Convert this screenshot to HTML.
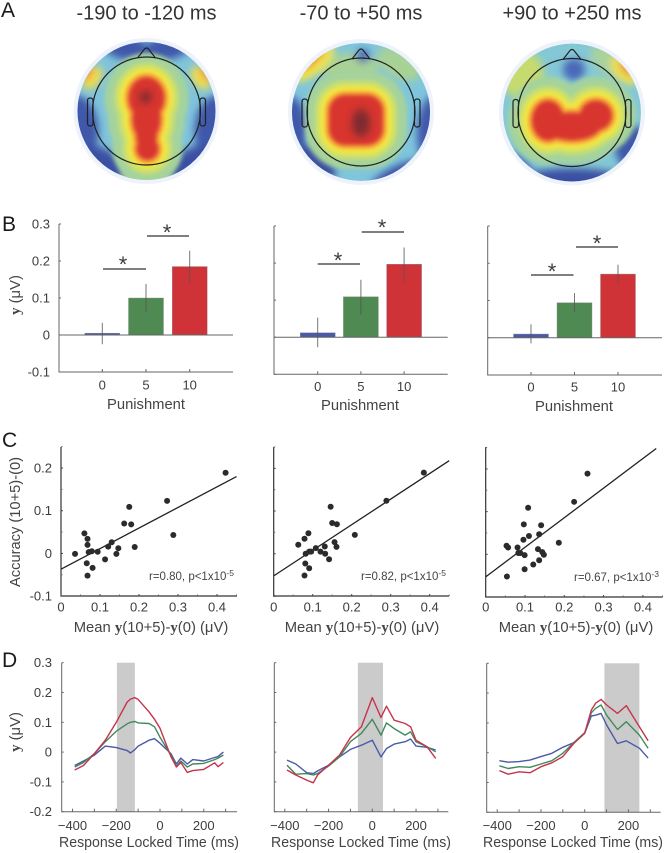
<!DOCTYPE html>
<html lang="en">
<head>
<meta charset="utf-8">
<title>Punishment ERP figure</title>
<style>
html,body{margin:0;padding:0;background:#fff;}
svg{display:block;}
text{font-family:"Liberation Sans",sans-serif;fill:#3d3d3d;}
.title{font-size:20px;fill:#333;}
.letter{font-size:21px;fill:#1a1a1a;}
.axt{font-size:14.8px;fill:#444;}
.bold{font-family:"Liberation Serif",serif;font-weight:bold;}
.sm{font-size:11.5px;fill:#444;}
.sup{font-size:8.5px;}
</style>
</head>
<body>
<svg id="fig" xmlns="http://www.w3.org/2000/svg" width="665" height="853" viewBox="0 0 665 853">
  <defs>
    <filter id="soft" x="-40%" y="-40%" width="180%" height="180%"><feGaussianBlur stdDeviation="4"/></filter>
    <filter id="softer" x="-40%" y="-40%" width="180%" height="180%"><feGaussianBlur stdDeviation="2.2"/></filter>
  </defs>
  <rect width="665" height="853" fill="#fff"/>
  <text class="letter" x="1" y="17">A</text>
  <text class="letter" x="2" y="231">B</text>
  <text class="letter" x="2" y="447">C</text>
  <text class="letter" x="2" y="667">D</text>

  <text class="title" x="146.5" y="19.5" text-anchor="middle">-190 to -120 ms</text>
  <text class="title" x="361" y="19.5" text-anchor="middle">-70 to +50 ms</text>
  <text class="title" x="572" y="19.5" text-anchor="middle">+90 to +250 ms</text>

  <text class="axt" transform="translate(20 295) rotate(-90)" text-anchor="middle"><tspan class="bold">y</tspan> (μV)</text>
  <text class="axt" x="146" y="409" text-anchor="middle" textLength="78" lengthAdjust="spacingAndGlyphs">Punishment</text>
  <text class="axt" x="360" y="410" text-anchor="middle" textLength="78" lengthAdjust="spacingAndGlyphs">Punishment</text>
  <text class="axt" x="574" y="411" text-anchor="middle" textLength="78" lengthAdjust="spacingAndGlyphs">Punishment</text>

  <text class="axt" transform="translate(20 522) rotate(-90)" text-anchor="middle" textLength="130" lengthAdjust="spacingAndGlyphs">Accuracy (10+5)-(0)</text>
  <text class="axt" x="151" y="632" text-anchor="middle">Mean <tspan class="bold">y</tspan>(10+5)-<tspan class="bold">y</tspan>(0) (μV)</text>
  <text class="axt" x="362" y="632" text-anchor="middle">Mean <tspan class="bold">y</tspan>(10+5)-<tspan class="bold">y</tspan>(0) (μV)</text>
  <text class="axt" x="576" y="632" text-anchor="middle">Mean <tspan class="bold">y</tspan>(10+5)-<tspan class="bold">y</tspan>(0) (μV)</text>
  <text class="sm" x="149" y="580">r=0.80, p&lt;1x10<tspan class="sup" dy="-4">-5</tspan></text>
  <text class="sm" x="361" y="580">r=0.82, p&lt;1x10<tspan class="sup" dy="-4">-5</tspan></text>
  <text class="sm" x="574" y="581">r=0.67, p&lt;1x10<tspan class="sup" dy="-4">-3</tspan></text>

  <text class="axt" transform="translate(20 732) rotate(-90)" text-anchor="middle"><tspan class="bold">y</tspan> (μV)</text>
  <text class="axt" x="149" y="847" text-anchor="middle" textLength="180" lengthAdjust="spacingAndGlyphs">Response Locked Time (ms)</text>
  <text class="axt" x="361" y="847" text-anchor="middle" textLength="180" lengthAdjust="spacingAndGlyphs">Response Locked Time (ms)</text>
  <text class="axt" x="573" y="847" text-anchor="middle" textLength="180" lengthAdjust="spacingAndGlyphs">Response Locked Time (ms)</text>
</svg>
<script>
// ---------- Panel B data ----------
const barCategories = ['0', '5', '10'];
const barTickLabels = ['0.3', '0.2', '0.1', '0', '-0.1'];
const barTickValues = [0.3, 0.2, 0.1, 0, -0.1];
const barMeansB1 = [0.005, 0.100, 0.185];
const barLowB1 = [-0.025, 0.062, 0.140];
const barHighB1 = [0.033, 0.138, 0.228];
const barMeansB2 = [0.012, 0.109, 0.197];
const barLowB2 = [-0.027, 0.060, 0.150];
const barHighB2 = [0.053, 0.155, 0.242];
const barMeansB3 = [0.010, 0.094, 0.171];
const barLowB3 = [-0.015, 0.068, 0.145];
const barHighB3 = [0.036, 0.120, 0.196];

// ---------- Panel C data ----------
const scatterTickLabelsX = ['0', '0.1', '0.2', '0.3', '0.4'];
const scatterTickValuesX = [0, 0.1, 0.2, 0.3, 0.4];
const scatterTickLabelsY = ['0.2', '0.1', '0', '-0.1'];
const scatterTickValuesY = [0.2, 0.1, 0, -0.1];
const scatterXC1 = [.036,.060,.068,.068,.071,.079,.094,.066,.081,.068,.113,.121,.130,.142,.147,.162,.175,.180,.189,.272,.288,.422];
const scatterYC1 = [-.001,.047,.034,.020,.003,.005,.004,-.023,-.034,-.052,-.014,.016,.026,-.001,.012,.070,.109,.068,.015,.123,.043,.189];
const fitC1 = [-.037, .180];
const fitEndC1 = .45;
const scatterXC2 = [.063,.079,.089,.082,.091,.096,.108,.081,.091,.079,.120,.131,.132,.142,.156,.161,.146,.150,.162,.208,.289,.385];
const scatterYC2 = [.021,.035,.048,0,.005,.005,.013,-.023,-.034,-.051,.005,.017,0,-.013,.027,.016,.110,.072,.069,.044,.124,.190];
const fitC2 = [-.052, .218];
const fitEndC2 = .45;
const scatterXC3 = [.053,.057,.081,.083,.088,.099,.096,.110,.097,.108,.136,.141,.133,.144,.148,.136,.121,.099,.054,.186,.225,.259];
const scatterYC3 = [.020,.016,.016,.003,.003,-.002,.034,.043,.070,.109,.047,.068,.012,.005,-.001,-.014,-.024,-.035,-.052,.027,.123,.189];
const fitC3 = [-.053, .248];
const fitEndC3 = .434;

// ---------- Panel D data ----------
const erpTickLabelsX = ['−400', '−200', '0', '200'];
const erpTickValuesX = [-400, -200, 0, 200];
const erpTickLabelsY = ['0.3', '0.2', '0.1', '0', '-0.1', '-0.2'];
const erpTickValuesY = [0.3, 0.2, 0.1, 0, -0.1, -0.2];
const timesD1 = [-390,-350,-300,-250,-200,-150,-135,-115,-100,-50,-25,0,50,75,95,125,150,200,250,265,290];
const redD1 = [-.06,-.045,-.005,.04,.10,.168,.178,.183,.177,.135,.11,.08,-.015,-.05,-.035,-.068,-.062,-.058,-.036,-.049,-.035];
const greenD1 = [-.05,-.035,-.005,.035,.07,.095,.10,.103,.098,.096,.085,.05,-.01,-.048,-.03,-.05,-.04,-.038,-.025,-.02,-.01];
const blueD1 = [-.045,-.03,-.01,.02,.015,.005,-.003,.008,.02,.04,.045,.03,-.005,-.04,-.02,-.04,-.025,-.03,-.018,-.015,0];
const bandD1 = [-197, -115];
const timesD2 = [-390,-350,-300,-270,-250,-200,-150,-100,-50,0,40,65,100,150,175,200,250,290];
const redD2 = [-.06,-.077,-.094,-.103,-.077,-.044,-.01,.049,.085,.183,.116,.154,.107,.096,.085,.04,.018,-.021];
const greenD2 = [-.044,-.074,-.072,-.077,-.072,-.047,-.016,.035,.063,.11,.057,.098,.079,.057,.068,.035,.018,.001];
const blueD2 = [-.027,-.04,-.069,-.072,-.063,-.044,-.016,.009,.023,.04,-.016,.012,.027,.035,.044,.02,.016,.007];
const bandD2 = [-66, 49];
const timesD3 = [-390,-350,-300,-250,-200,-150,-100,-50,0,30,50,75,100,150,190,250,290];
const redD3 = [-.06,-.072,-.064,-.067,-.047,-.034,-.013,.031,.065,.143,.166,.179,.16,.132,.158,.087,.04];
const greenD3 = [-.044,-.053,-.047,-.049,-.038,-.027,-.002,.034,.067,.134,.149,.16,.126,.078,.104,.059,.015];
const blueD3 = [-.027,-.032,-.03,-.025,-.013,-.002,.018,.034,.065,.123,.126,.132,.093,.031,.04,.015,-.018];
const bandD3 = [90, 250];

const svg = document.getElementById('fig');
const NS = 'http://www.w3.org/2000/svg';
function mk(tag, attrs, parent, txt) {
  const el = document.createElementNS(NS, tag);
  for (const k in attrs) el.setAttribute(k, attrs[k]);
  if (txt !== undefined) el.textContent = txt;
  (parent || svg).appendChild(el);
  return el;
}
function linear(d0, d1, r0, r1) {
  return v => r0 + (v - d0) / (d1 - d0) * (r1 - r0);
}

// ---------- Scalp maps (panel A) ----------
const hotLevels = [['#a5d39c', 24], ['#cfe06a', 14], ['#f5ea3f', 8.5], ['#f6a83a', 4], ['#d8342f', 0]];
const maps = [
  { name: 'scalp-map-1', cx: 146.5, cy: 111, base: '#7fc4dc',
    patches: [
      ['#a9d29c', 0, 5, 34, 52, 0],
      ['#3f58aa', -24, -66, 26, 14, 20], ['#3f58aa', 24, -66, 26, 14, -20],
      ['#3f58aa', -72, 20, 24, 36, 0], ['#3f58aa', 72, 20, 24, 36, 0],
      ['#3a4fa2', -46, 56, 26, 18, 35], ['#3a4fa2', 46, 56, 26, 18, -35],
      ['#f2df4a', -54, -33, 8, 13, 35], ['#f2df4a', 54, -33, 8, 13, -35],
      ['#ef8d40', -59, -37, 4, 8, 35], ['#ef8d40', 59, -37, 4, 8, -35],
      ['#a9d29c', 0, 66, 24, 14, 0], ['#f5e83e', 1, 66, 9, 12, 0]
    ],
    hot: [[0, -13, 18, 21], [0, 8, 14, 22], [0, 26, 10, 12], [1, 38, 11, 11]],
    dark: [[-1, -14, 6, 6]] },
  { name: 'scalp-map-2', cx: 361, cy: 112, base: '#7fc5dc',
    patches: [
      ['#a8d295', -12, -45, 30, 14, 0], ['#a8d295', 38, -48, 24, 14, 30],
      ['#f1e64a', -48, -50, 26, 12, -42], ['#ee7f3a', -51, -54, 20, 7, -42],
      ['#4058aa', -72, 18, 18, 34, 0], ['#4058aa', 76, 22, 20, 40, 0],
      ['#3a4fa2', -48, 55, 24, 20, 40], ['#3a4fa2', 40, 68, 36, 15, -25],
      ['#4a68b8', 2, -56, 7, 7, 0]
    ],
    hot: [[-5, 8, 27, 25, 1]],
    dark: [[0, 11, 9, 14]] },
  { name: 'scalp-map-3', cx: 572, cy: 112.5, base: '#84c8d6',
    patches: [
      ['#c6da6e', -50, -38, 22, 24, 0], ['#a9d29c', 42, -50, 26, 14, 30],
      ['#eee24e', 52, -42, 10, 17, -40], ['#ee8040', 55, -45, 5, 10, -40],
      ['#4a68b8', 2, -43, 11, 11, 0],
      ['#3a4fa2', 0, 76, 72, 20, 0], ['#3f58aa', 64, 38, 20, 26, -28], ['#3f58aa', -58, 56, 26, 13, 40]
    ],
    hot: [[-24, 8, 16, 20], [24, 3, 16, 15], [0, 14, 28, 14]],
    dark: [] }
];
maps.forEach((m, i) => {
  const clip = mk('clipPath', { id: 'clip' + i }, svg.querySelector('defs'));
  mk('circle', { cx: m.cx, cy: m.cy, r: 69 }, clip);
  const halo = mk('circle', { cx: m.cx, cy: m.cy, r: 73, fill: '#edf2fb' });
  
  
  const g = mk('g', { 'clip-path': 'url(#clip' + i + ')' });
  
  
  mk('circle', { cx: m.cx, cy: m.cy, r: 69, fill: m.base }, g);
  const pg = mk('g', { filter: 'url(#soft)' }, g);
  m.patches.forEach(p => {
    mk('ellipse', { cx: m.cx + p[1], cy: m.cy + p[2], rx: p[3], ry: p[4], fill: p[0],
      transform: 'rotate(' + p[5] + ' ' + (m.cx + p[1]) + ' ' + (m.cy + p[2]) + ')' }, pg);
  });
  hotLevels.forEach(lv => {
    const lg = mk('g', { filter: 'url(#softer)', fill: lv[0] }, g);
    m.hot.forEach(s => {
      if (s[4]) {
        const hw = s[2] + lv[1], hh = s[3] + lv[1];
        mk('rect', { x: m.cx + s[0] - hw, y: m.cy + s[1] - hh, width: hw * 2, height: hh * 2, rx: 16 + lv[1], ry: 16 + lv[1] }, lg);
      } else {
        mk('ellipse', { cx: m.cx + s[0], cy: m.cy + s[1], rx: s[2] + lv[1], ry: s[3] + lv[1] }, lg);
      }
    });
  });
  const dg = mk('g', { filter: 'url(#soft)', fill: '#7e2a30' }, g);
  m.dark.forEach(s => {
    mk('ellipse', { cx: m.cx + s[0], cy: m.cy + s[1], rx: s[2], ry: s[3] }, dg);
  });
  const head = mk('g', { fill: 'none', stroke: '#222', 'stroke-width': 1.2 });
  
  
  mk('circle', { cx: m.cx, cy: m.cy, r: 54 }, head);
  mk('path', { d: 'M' + (m.cx - 9) + ' ' + (m.cy - 53) + 'L' + (m.cx - 2) + ' ' + (m.cy - 62) + 'Q' + m.cx + ' ' + (m.cy - 64) + ' ' + (m.cx + 2) + ' ' + (m.cy - 62) + 'L' + (m.cx + 9) + ' ' + (m.cy - 53) }, head);
  mk('rect', { x: m.cx - 59, y: m.cy - 13, width: 5.5, height: 28, rx: 2.5 }, head);
  mk('rect', { x: m.cx + 53.5, y: m.cy - 13, width: 5.5, height: 28, rx: 2.5 }, head);
});

// ---------- Bars (panel B) ----------
const barPanels = [
  { id: 'b1', axisX: 59, top: 224, bottom: 372, right: 233, tick0: 102.3, step: 43.7, labelY: 389.5, yLabels: true,
    means: barMeansB1, low: barLowB1, high: barHighB1,
    sig: [[103, 146, 269, 123, 259], [147, 189, 236, 167, 227]] },
  { id: 'b2', axisX: 274, top: 226, bottom: 374.3, right: 447.7, tick0: 317.7, step: 43.2, labelY: 391, yLabels: false,
    means: barMeansB2, low: barLowB2, high: barHighB2,
    sig: [[317.7, 360, 264, 338, 255], [361.7, 404, 232, 382, 222]] },
  { id: 'b3', axisX: 487.7, top: 226, bottom: 375, right: 662, tick0: 531, step: 43.5, labelY: 391.5, yLabels: false,
    means: barMeansB3, low: barLowB3, high: barHighB3,
    sig: [[531, 573.5, 275, 552, 266], [576, 618, 247, 597, 238]] }
];
const barColors = ['#4a59a8', '#4f8a52', '#cf3338'];
barPanels.forEach(p => {
  const y = linear(-0.1, 0.3, p.bottom, p.top);
  const x = i => p.tick0 + i * p.step;
  const g = mk('g', {});
  
  
  p.means.forEach((v, i) => {
    const top = Math.min(y(v), y(0));
    const bar = mk('rect', { x: x(i) - 17.5, y: top, width: 35, height: Math.abs(y(v) - y(0)), fill: barColors[i], stroke: '#8e8e8e', 'stroke-width': 0.4 }, g);
    
    
  });
  const axis = mk('path', { d: 'M' + p.axisX + ' ' + p.top + 'V' + p.bottom + 'H' + p.right + 'M' + p.axisX + ' ' + y(0) + 'H' + p.right, fill: 'none', stroke: '#666', 'stroke-width': 1 }, g);
  
  
  p.means.forEach((v, i) => {
    const err = mk('line', { x1: x(i), x2: x(i), y1: y(p.low[i]), y2: y(p.high[i]), stroke: '#555', 'stroke-width': 1, opacity: 0.8 }, g);
    
    
    const tick = mk('line', { x1: x(i), x2: x(i), y1: p.bottom, y2: p.bottom - 3, stroke: '#666' }, g);
    
    
    const lab = mk('text', { x: x(i), y: p.labelY, 'text-anchor': 'middle', 'font-size': 13 }, g, barCategories[i]);
    
    
  });
  barTickValues.forEach((v, i) => {
    const tick = mk('line', { x1: p.axisX, x2: p.axisX + 2, y1: y(v), y2: y(v), stroke: '#666' }, g);
    
    
    if (p.yLabels) {
      const lab = mk('text', { x: 50, y: y(v) + 4.5, 'text-anchor': 'end', 'font-size': 13 }, g, barTickLabels[i]);
      
      
    }
  });
  p.sig.forEach(s => {
    const ln = mk('line', { x1: s[0], x2: s[1], y1: s[2], y2: s[2], stroke: '#333', 'stroke-width': 1.2 }, g);
    
    
    const st = mk('text', { x: s[3], y: s[4] + 13, 'text-anchor': 'middle', 'font-size': 22, fill: '#333' }, g, '*');
    
    
  });
});

// ---------- Scatter (panel C) ----------
const scatterPanels = [
  { id: 'c1', axisX: 61, top: 447, bottom: 596, zero: 553.4, right: 237, pxX: 390, yLabels: true, xs: scatterXC1, ys: scatterYC1, fit: fitC1, fitEnd: fitEndC1 },
  { id: 'c2', axisX: 273.7, top: 447, bottom: 596, zero: 553.7, right: 449, pxX: 390, yLabels: false, xs: scatterXC2, ys: scatterYC2, fit: fitC2, fitEnd: fitEndC2 },
  { id: 'c3', axisX: 485.7, top: 447, bottom: 597, zero: 554.3, right: 662.7, pxX: 393, yLabels: false, xs: scatterXC3, ys: scatterYC3, fit: fitC3, fitEnd: fitEndC3 }
];
scatterPanels.forEach(p => {
  const X = v => p.axisX + v * p.pxX;
  const Y = v => p.zero - v * 426.7;
  const g = mk('g', {});
  
  
  const axis = mk('path', { d: 'M' + p.axisX + ' ' + p.top + 'V' + p.bottom + 'H' + p.right, fill: 'none', stroke: '#333', 'stroke-width': 1.2 }, g);
  
  
  scatterTickValuesX.forEach((v, i) => {
    const tick = mk('line', { x1: X(v), x2: X(v), y1: p.bottom, y2: p.bottom - 2, stroke: '#444' }, g);
    
    
    const half = mk('line', { x1: X(v + 0.05), x2: X(v + 0.05), y1: p.bottom, y2: p.bottom - 1.5, stroke: '#666' }, g);
    
    
    const lab = mk('text', { x: X(v), y: 611.5, 'text-anchor': 'middle', 'font-size': 13 }, g, scatterTickLabelsX[i]);
    
    
  });
  scatterTickValuesY.forEach((v, i) => {
    const tick = mk('line', { x1: p.axisX, x2: p.axisX + 2, y1: Y(v), y2: Y(v), stroke: '#444' }, g);
    
    
    const half = mk('line', { x1: p.axisX, x2: p.axisX + 1.5, y1: Y(v + 0.05), y2: Y(v + 0.05), stroke: '#666' }, g);
    
    
    if (p.yLabels) {
      const lab = mk('text', { x: 52, y: Y(v) + 4.5, 'text-anchor': 'end', 'font-size': 13 }, g, scatterTickLabelsY[i]);
      
      
    }
  });
  const fit = mk('line', { x1: X(0), y1: Y(p.fit[0]), x2: X(p.fitEnd), y2: Y(p.fit[1]), stroke: '#222', 'stroke-width': 1.3 }, g);
  
  
  p.xs.forEach((v, i) => {
    const dot = mk('circle', { cx: X(v), cy: Y(p.ys[i]), r: 3, fill: '#2b2b2b' }, g);
    
    
  });
});

// ---------- ERP traces (panel D) ----------
const erpPanels = [
  { id: 'd1', axisX: 61.7, top: 662.7, bottom: 811.7, right: 237, t0: 160, yLabels: true, band: bandD1, times: timesD1, red: redD1, green: greenD1, blue: blueD1 },
  { id: 'd2', axisX: 274.3, top: 662.7, bottom: 811.7, right: 448.3, t0: 372.3, yLabels: false, band: bandD2, times: timesD2, red: redD2, green: greenD2, blue: blueD2 },
  { id: 'd3', axisX: 486.7, top: 663.3, bottom: 812.3, right: 660.7, t0: 584.7, yLabels: false, band: bandD3, times: timesD3, red: redD3, green: greenD3, blue: blueD3 }
];
const traceColors = { blue: '#4b5aa8', green: '#3f8a5c', red: '#c7334a' };
erpPanels.forEach(p => {
  const X = t => p.t0 + t * 0.2187;
  const Y = linear(-0.2, 0.3, p.bottom, p.top);
  const g = mk('g', {});
  
  
  const band = mk('rect', { x: X(p.band[0]), y: p.top, width: X(p.band[1]) - X(p.band[0]), height: p.bottom - p.top, fill: '#cbcbcb' }, g);
  
  
  const axis = mk('path', { d: 'M' + p.axisX + ' ' + p.top + 'V' + p.bottom + 'H' + p.right, fill: 'none', stroke: '#666', 'stroke-width': 1 }, g);
  
  
  erpTickValuesY.forEach((v, i) => {
    const tick = mk('line', { x1: p.axisX, x2: p.axisX + 2, y1: Y(v), y2: Y(v), stroke: '#666' }, g);
    
    
    if (p.yLabels) {
      const lab = mk('text', { x: 52, y: Y(v) + 4.5, 'text-anchor': 'end', 'font-size': 13 }, g, erpTickLabelsY[i]);
      
      
    }
  });
  erpTickValuesX.forEach((v, i) => {
    const tick = mk('line', { x1: X(v), x2: X(v), y1: p.bottom, y2: p.bottom - 3, stroke: '#666' }, g);
    
    
    const half = mk('line', { x1: X(v + 100), x2: X(v + 100), y1: p.bottom, y2: p.bottom - 3, stroke: '#666' }, g);
    
    
    const lab = mk('text', { x: X(v), y: 830, 'text-anchor': 'middle', 'font-size': 13 }, g, erpTickLabelsX[i]);
    
    
  });
  ['blue', 'green', 'red'].forEach(key => {
    const pts = p.times.map((t, i) => X(t).toFixed(1) + ',' + Y(p[key][i]).toFixed(1)).join(' ');
    const ln = mk('polyline', { points: pts, fill: 'none', stroke: traceColors[key], 'stroke-width': 1.4, 'stroke-linejoin': 'round' }, g);
    
    
  });
});
</script>
</body>
</html>
